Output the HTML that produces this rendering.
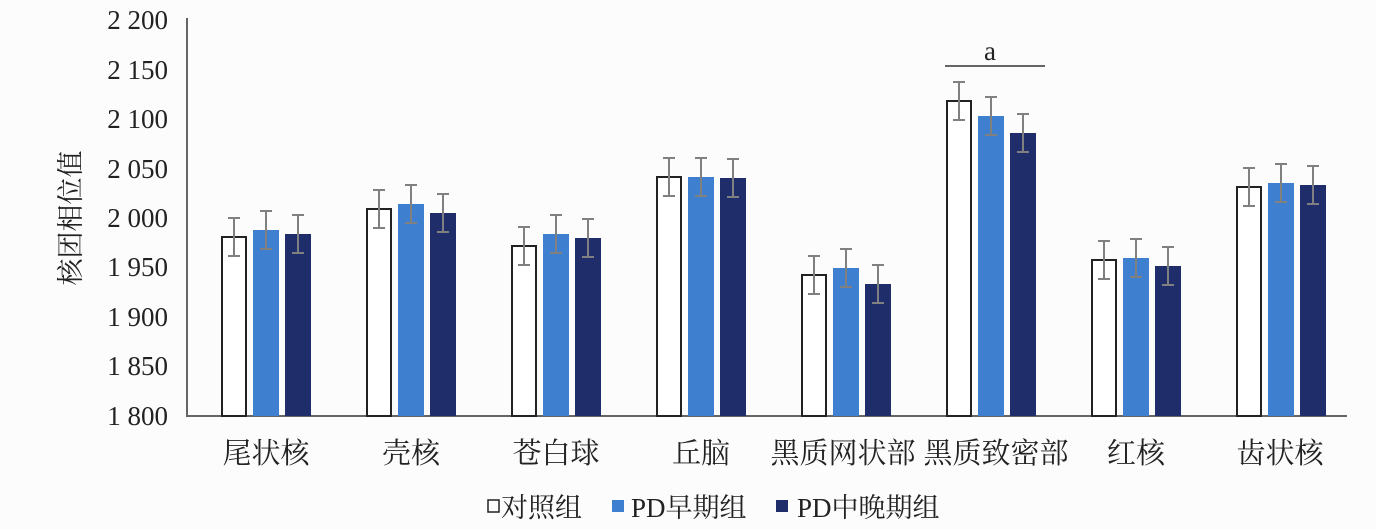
<!DOCTYPE html>
<html><head><meta charset="utf-8"><style>
html,body{margin:0;padding:0;background:#fcfcfd;}
svg{display:block;font-family:"Liberation Serif","Noto Serif CJK SC",serif;}
</style></head><body>
<svg width="1376" height="529" viewBox="0 0 1376 529">
<defs>
<g id="eb" stroke="#808080" stroke-width="2"><line x1="0" y1="-19" x2="0" y2="19"/><line x1="-6" y1="-19" x2="6" y2="-19"/><line x1="-6" y1="19" x2="6" y2="19"/></g>
</defs>
<rect width="1376" height="529" fill="#fcfcfd"/>
<g font-size="27" fill="#222" text-anchor="end">
<text x="168" y="29">2 200</text>
<text x="168" y="79">2 150</text>
<text x="168" y="128">2 100</text>
<text x="168" y="178">2 050</text>
<text x="168" y="227">2 000</text>
<text x="168" y="276">1 950</text>
<text x="168" y="326">1 900</text>
<text x="168" y="375">1 850</text>
<text x="168" y="425">1 800</text>
</g>
<text transform="translate(80,218) rotate(-90)" font-size="27" text-anchor="middle" fill="#222">核团相位值</text>
<line x1="187" y1="18" x2="187" y2="417" stroke="#666" stroke-width="2"/>
<line x1="186" y1="416" x2="1347" y2="416" stroke="#666" stroke-width="2"/>
<g stroke="#222" stroke-width="2" fill="#fff">
<rect x="222" y="237" width="24" height="179"/>
<rect x="367" y="209" width="24" height="207"/>
<rect x="512" y="246" width="24" height="170"/>
<rect x="657" y="177" width="24" height="239"/>
<rect x="802" y="275" width="24" height="141"/>
<rect x="947" y="101" width="24" height="315"/>
<rect x="1092" y="260" width="24" height="156"/>
<rect x="1237" y="187" width="24" height="229"/>
</g>
<g fill="#3f7fcf">
<rect x="253" y="230" width="26" height="186"/>
<rect x="398" y="204" width="26" height="212"/>
<rect x="543" y="234" width="26" height="182"/>
<rect x="688" y="177" width="26" height="239"/>
<rect x="833" y="268" width="26" height="148"/>
<rect x="978" y="116" width="26" height="300"/>
<rect x="1123" y="258" width="26" height="158"/>
<rect x="1268" y="183" width="26" height="233"/>
</g>
<g fill="#1f2d6b">
<rect x="285" y="234" width="26" height="182"/>
<rect x="430" y="213" width="26" height="203"/>
<rect x="575" y="238" width="26" height="178"/>
<rect x="720" y="178" width="26" height="238"/>
<rect x="865" y="284" width="26" height="132"/>
<rect x="1010" y="133" width="26" height="283"/>
<rect x="1155" y="266" width="26" height="150"/>
<rect x="1300" y="185" width="26" height="231"/>
</g>
<use href="#eb" x="234" y="237"/><use href="#eb" x="266" y="230"/><use href="#eb" x="298" y="234"/>
<use href="#eb" x="379" y="209"/><use href="#eb" x="411" y="204"/><use href="#eb" x="443" y="213"/>
<use href="#eb" x="524" y="246"/><use href="#eb" x="556" y="234"/><use href="#eb" x="588" y="238"/>
<use href="#eb" x="669" y="177"/><use href="#eb" x="701" y="177"/><use href="#eb" x="733" y="178"/>
<use href="#eb" x="814" y="275"/><use href="#eb" x="846" y="268"/><use href="#eb" x="878" y="284"/>
<use href="#eb" x="959" y="101"/><use href="#eb" x="991" y="116"/><use href="#eb" x="1023" y="133"/>
<use href="#eb" x="1104" y="260"/><use href="#eb" x="1136" y="258"/><use href="#eb" x="1168" y="266"/>
<use href="#eb" x="1249" y="187"/><use href="#eb" x="1281" y="183"/><use href="#eb" x="1313" y="185"/>
<line x1="945" y1="66" x2="1045" y2="66" stroke="#333" stroke-width="1.5"/>
<text x="990" y="60" font-size="27" text-anchor="middle" fill="#222">a</text>
<g font-size="29" fill="#222" text-anchor="middle">
<text x="266" y="463">尾状核</text>
<text x="411" y="463">壳核</text>
<text x="556" y="463">苍白球</text>
<text x="701" y="463">丘脑</text>
<text x="843" y="463">黑质网状部</text>
<text x="996" y="463">黑质致密部</text>
<text x="1136" y="463">红核</text>
<text x="1280" y="463">齿状核</text>
</g>
<g font-size="27" fill="#222">
<rect x="488" y="500" width="11" height="12" fill="#fff" stroke="#222" stroke-width="1.5"/>
<text x="501" y="517">对照组</text>
<rect x="612" y="500" width="12" height="12" fill="#3f7fcf"/>
<text x="631" y="517">PD早期组</text>
<rect x="776" y="500" width="12" height="12" fill="#1f2d6b"/>
<text x="797" y="517">PD中晚期组</text>
</g>
</svg>
</body></html>
